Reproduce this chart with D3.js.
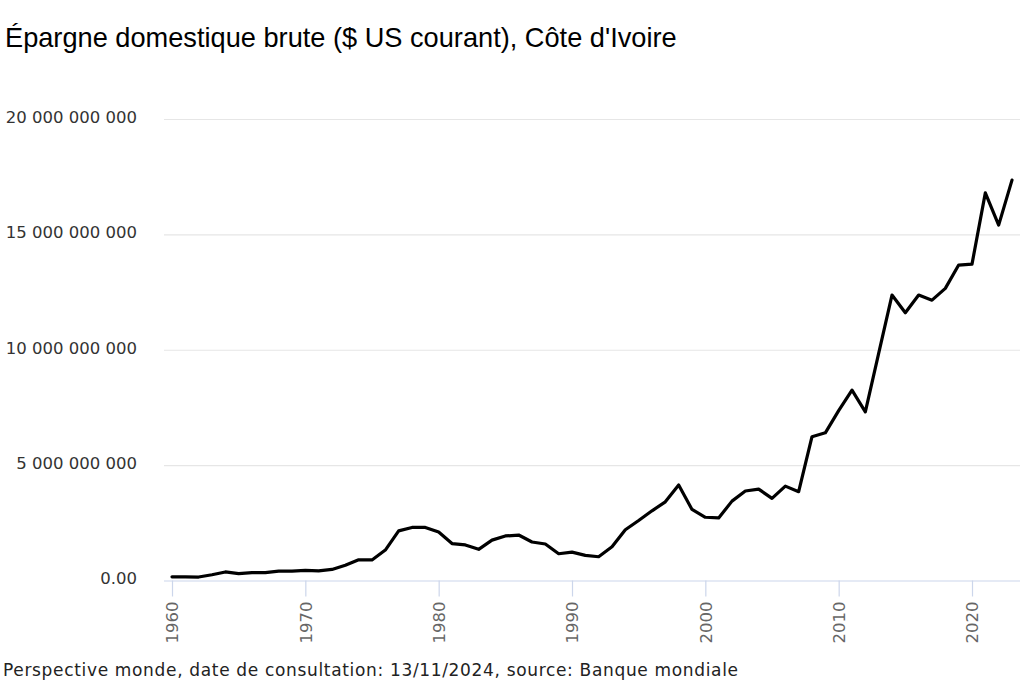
<!DOCTYPE html>
<html>
<head>
<meta charset="utf-8">
<script src="https://cdn.jsdelivr.net/npm/d3@7"></script>
<style>
  html, body { margin: 0; padding: 0; background: #fff; }
  svg { display: block; }
</style>
</head>
<body>
<svg id="chart" width="1024" height="683"></svg>
<script>
// Data (billions of current US$)
const years = [1960,1961,1962,1963,1964,1965,1966,1967,1968,1969,
               1970,1971,1972,1973,1974,1975,1976,1977,1978,1979,
               1980,1981,1982,1983,1984,1985,1986,1987,1988,1989,
               1990,1991,1992,1993,1994,1995,1996,1997,1998,1999,
               2000,2001,2002,2003,2004,2005,2006,2007,2008,2009,
               2010,2011,2012,2013,2014,2015,2016,2017,2018,2019,
               2020,2021,2022,2023];
const savingsBillions = [0.16,0.16,0.15,0.25,0.37,0.30,0.34,0.34,0.41,0.41,
                         0.44,0.42,0.48,0.66,0.90,0.89,1.32,2.15,2.30,2.30,
                         2.10,1.60,1.54,1.35,1.75,1.93,1.97,1.67,1.58,1.16,
                         1.23,1.09,1.03,1.46,2.20,2.60,3.02,3.41,4.14,3.08,
                         2.74,2.71,3.44,3.88,3.96,3.56,4.09,3.85,6.23,6.40,
                         7.36,8.25,7.31,9.84,12.37,11.60,12.37,12.15,12.66,13.67,
                         13.71,16.80,15.40,17.35];
const yTicks = [0, 5e9, 10e9, 15e9, 20e9];
const xTicks = [1960, 1970, 1980, 1990, 2000, 2010, 2020];
const titleText = "Épargne domestique brute ($ US courant), Côte d'Ivoire";
const captionText = "Perspective monde, date de consultation: 13/11/2024, source: Banque mondiale";

const data = years.map((yr, i) => ({ year: yr, value: savingsBillions[i] * 1e9 }));

const svg = d3.select("#chart");
const plotLeft = 164, plotRight = 1020, plotTop = 119, plotBottom = 580.5;

const x = d3.scaleLinear().domain([1959.4, 2023.6]).range([plotLeft, plotRight]);
const y = d3.scaleLinear().domain([0, 20e9]).range([plotBottom, plotTop]);

function fmtY(v) {
  if (v === 0) return "0.00";
  return d3.format(",")(v).replace(/,/g, " ");
}

// Title
svg.append("text")
  .attr("x", 5).attr("y", 47)
  .attr("font-family", "'Liberation Sans', Arial, sans-serif")
  .attr("font-size", 27.2)
  .attr("fill", "#000")
  .text(titleText);

// Grid lines
const grid = svg.append("g")
  .attr("transform", `translate(${plotLeft},0)`)
  .call(d3.axisLeft(y).tickValues(yTicks.filter(v => v > 0)).tickSize(-(plotRight - plotLeft)).tickFormat(""));
grid.select(".domain").remove();
grid.selectAll(".tick line").attr("stroke", "#e6e6e6").attr("stroke-width", 1.2);

// Y labels
const yAxis = svg.append("g")
  .attr("transform", `translate(${plotLeft},0)`)
  .call(d3.axisLeft(y).tickValues(yTicks).tickSize(0).tickPadding(27).tickFormat(fmtY));
yAxis.select(".domain").remove();
yAxis.selectAll(".tick text")
  .attr("font-family", "'DejaVu Sans', sans-serif")
  .attr("font-size", 16.5)
  .attr("fill", "#333")
  .attr("dy", "0.2em");

// X axis
const xAxis = svg.append("g")
  .attr("transform", `translate(0,${plotBottom})`)
  .call(d3.axisBottom(x).tickValues(xTicks).tickSize(16).tickFormat(d3.format("d")));
xAxis.select(".domain").attr("stroke", "#ccd6eb").attr("stroke-width", 1.2)
  .attr("d", `M${plotLeft},0.5H${plotRight}`);
xAxis.selectAll(".tick line").attr("stroke", "#ccd6eb").attr("stroke-width", 1.2);
xAxis.selectAll(".tick text")
  .attr("font-family", "'DejaVu Sans', sans-serif")
  .attr("font-size", 16.5)
  .attr("fill", "#666")
  .attr("text-anchor", "end")
  .attr("transform", "rotate(-90)")
  .attr("x", -21)
  .attr("y", 0)
  .attr("dy", "0.35em");

// Line
const line = d3.line().x(d => x(d.year)).y(d => y(d.value));
svg.append("path")
  .datum(data)
  .attr("fill", "none")
  .attr("stroke", "#000")
  .attr("stroke-width", 3.2)
  .attr("stroke-linejoin", "round")
  .attr("stroke-linecap", "round")
  .attr("d", line);

// Caption (stretched to the reference width)
const cap = svg.append("text")
  .attr("x", 3).attr("y", 676)
  .attr("font-family", "'DejaVu Sans', sans-serif")
  .attr("font-size", 17)
  .attr("fill", "#222")
  .text(captionText);
const capLen = cap.node().getComputedTextLength();
const capTarget = 735;
cap.attr("letter-spacing", ((capTarget - capLen) / (captionText.length - 1)).toFixed(3));
</script>
</body>
</html>
